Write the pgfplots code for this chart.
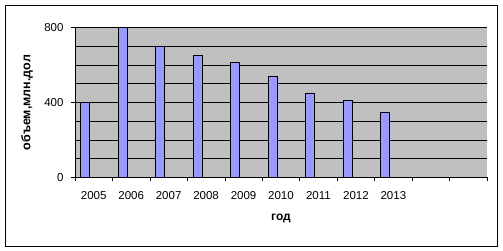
\documentclass[border=0pt]{standalone}
\usepackage{pgfplots}
\pgfplotsset{compat=1.18}
\usepackage{fontspec}
\setmainfont{Liberation Sans}
\definecolor{excelgray}{RGB}{192,192,192}
\definecolor{barblue}{RGB}{153,153,255}
\begin{document}
\begin{tikzpicture}[x=1pt,y=1pt]
\path[use as bounding box, fill=white] (0,0) rectangle (503,251);
\draw[line width=0.8pt] (5,4.5) rectangle (497,246);
\begin{axis}[
  at={(75pt,73.7pt)}, anchor=south west,
  scale only axis, width=412pt, height=149.6pt,
  xmin=0, xmax=11, ymin=0, ymax=800,
  axis background/.style={fill=excelgray},
  axis x line*=bottom, axis y line*=left,
  axis line style={-, line width=0.8pt},
  ytick={0,400,800},
  minor ytick={100,200,300,500,600,700},
  ymajorgrids, yminorgrids,
  major grid style={black, line width=0.6pt},
  minor grid style={black, line width=0.6pt},
  minor y tick style={draw=none},
  xtick={0.5,1.5,2.5,3.5,4.5,5.5,6.5,7.5,8.5},
  xticklabels={2005,2006,2007,2008,2009,2010,2011,2012,2013},
  major x tick style={draw=none},
  minor xtick={0,1,2,3,4,5,6,7,8,9,10,11},
  tick align=outside,
  major tick length=4pt, minor tick length=4pt,
  tick style={black, line width=0.6pt},
  /pgf/number format/assume math mode=true,
  tick label style={font=\fontsize{11.5}{13}\selectfont},
  xticklabel style={yshift=-7pt},
  yticklabel style={xshift=-4pt},
  every axis y label/.style={at={(axis description cs:0,0.5)}, anchor=center, rotate=90, yshift=48pt, font=\fontsize{12.5}{14}\selectfont\bfseries},
  every axis x label/.style={at={(axis description cs:0.5,0)}, anchor=center, yshift=-41pt, font=\fontsize{12}{14}\selectfont\bfseries},
  ylabel={объем,млн.дол},
  xlabel={год},
  clip=false,
]
\addplot[ybar, bar width=9pt, bar shift=-8.5pt, fill=barblue, draw=black, line width=0.6pt]
  coordinates {(0.5,400) (1.5,800) (2.5,700) (3.5,650) (4.5,615) (5.5,540) (6.5,450) (7.5,410) (8.5,350)};
\end{axis}
\end{tikzpicture}
\end{document}
